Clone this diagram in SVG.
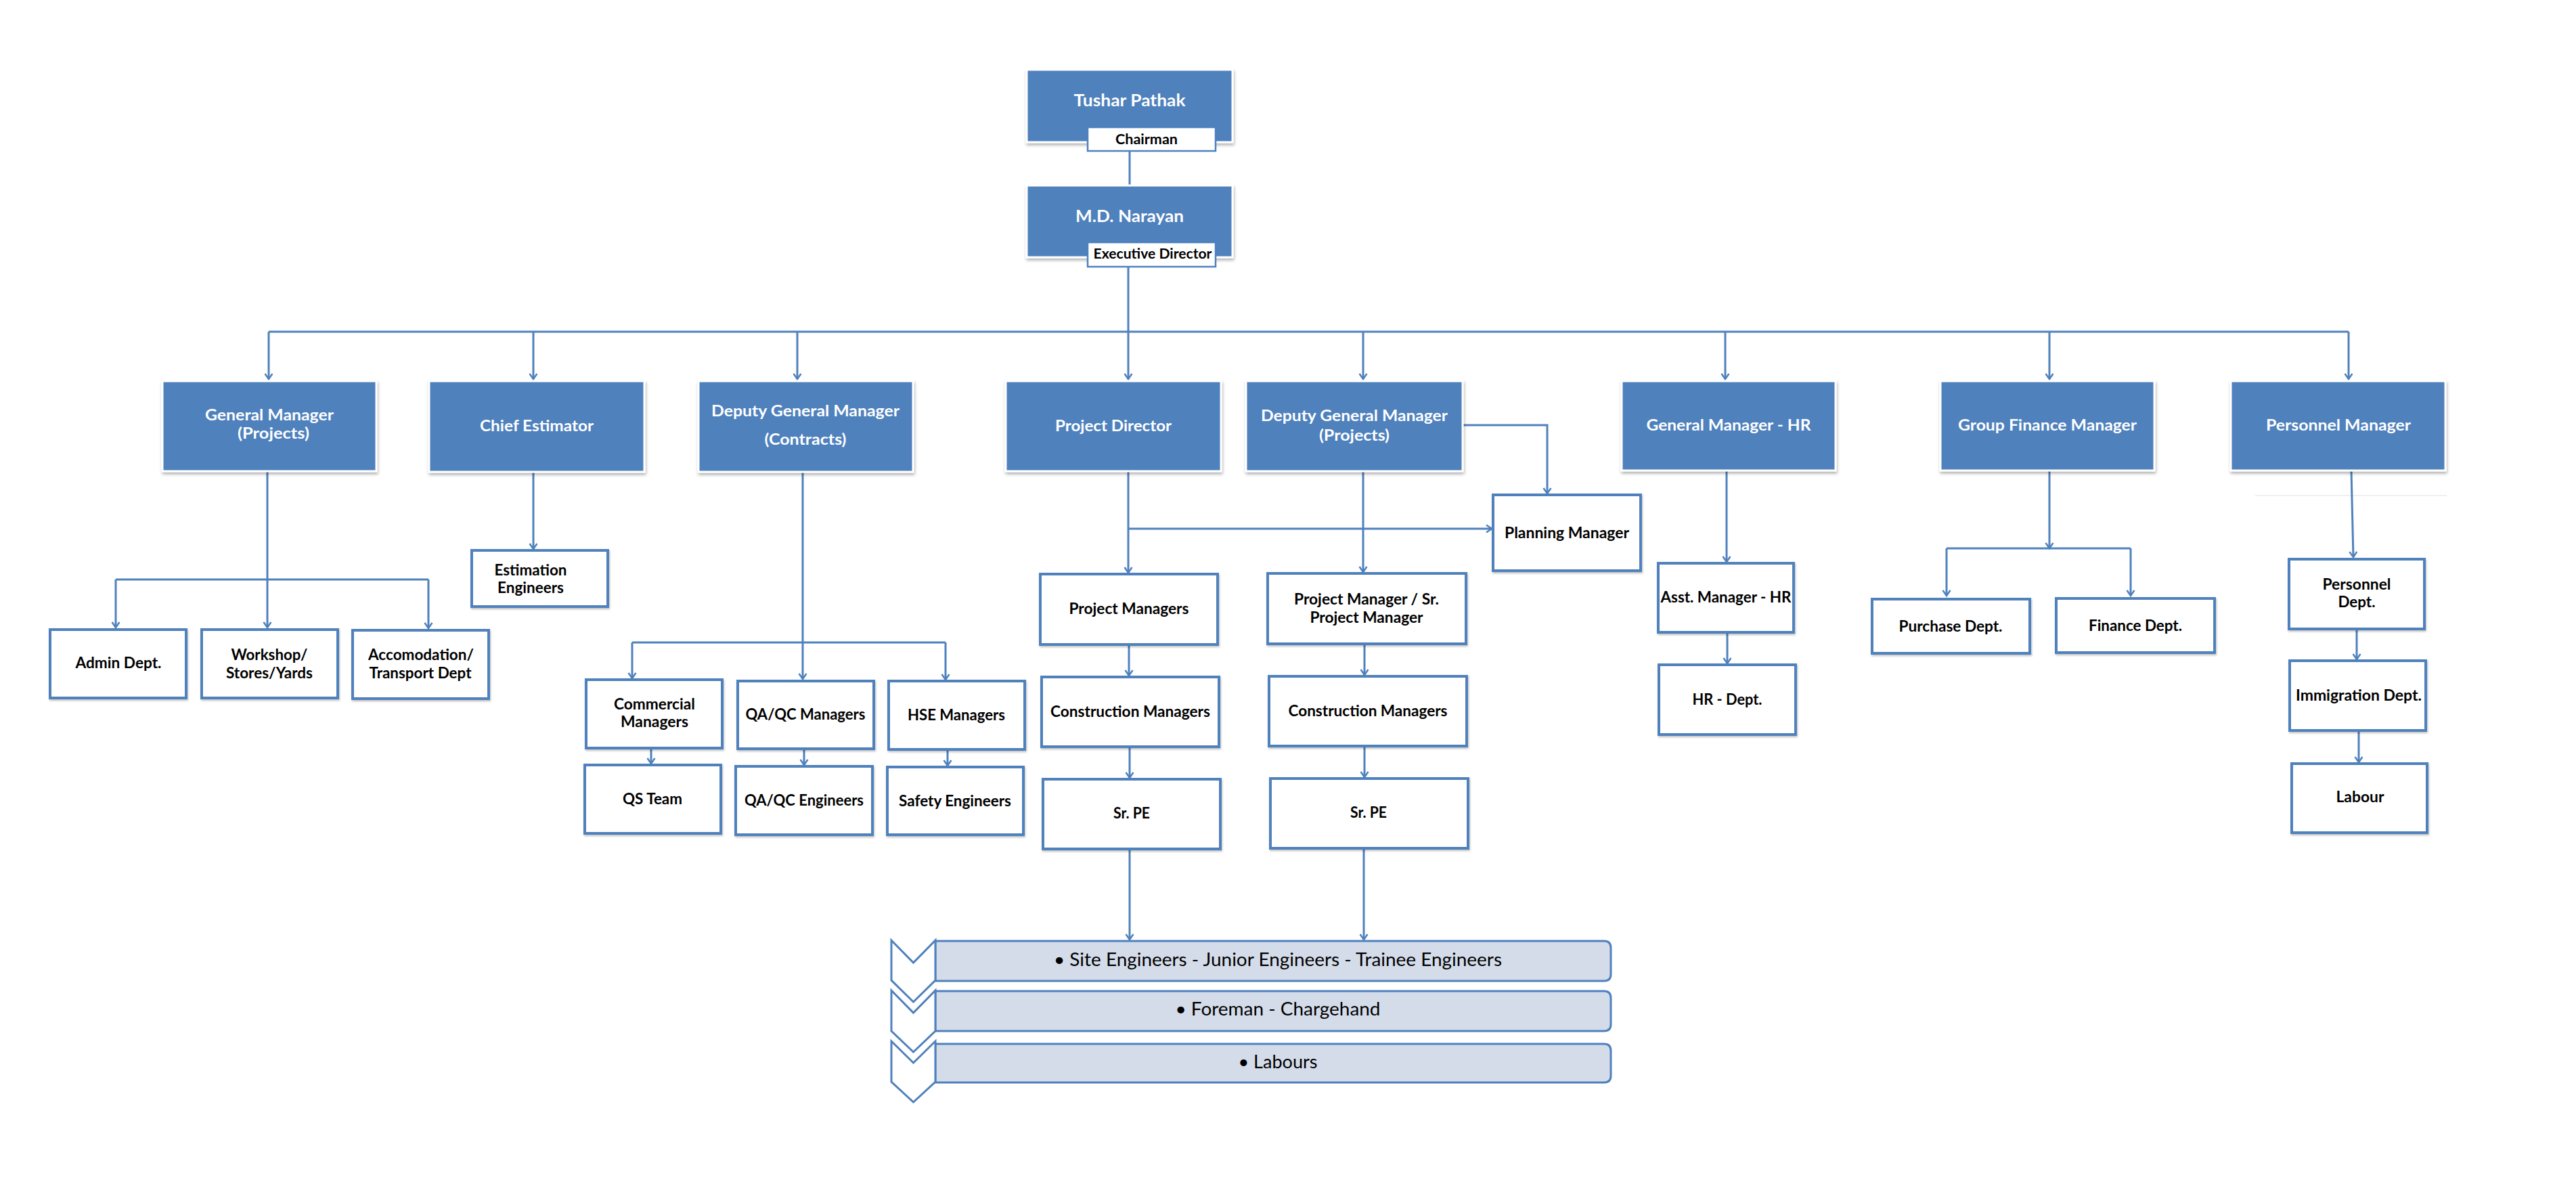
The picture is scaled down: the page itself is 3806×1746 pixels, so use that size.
<svg xmlns="http://www.w3.org/2000/svg" width="3806" height="1746" viewBox="0 0 3806 1746">
<defs>
<style>
.bb{fill:#4f81bd;stroke:#ffffff;stroke-width:3;filter:url(#sh)}
.wb{fill:#ffffff;stroke:#4f81bd;stroke-width:4;filter:url(#sh2)}
.lb{fill:#ffffff;stroke:#4f81bd;stroke-width:2.5}
.ln{fill:none;stroke:#4f81bd;stroke-width:3}
.la{fill:none;stroke:#4f81bd;stroke-width:3;marker-end:url(#arr)}
.bar{fill:#d4dcea;stroke:#4f81bd;stroke-width:3}
.chev{fill:#ffffff;stroke:#4f81bd;stroke-width:3;stroke-linejoin:miter}
text{font-family:Lato,"Liberation Sans","DejaVu Sans",sans-serif;text-anchor:middle}
.tw{fill:#ffffff;font-weight:bold;font-size:23px}
.tt{fill:#ffffff;font-weight:bold;font-size:25px}
.tb{fill:#000000;font-weight:bold;font-size:22px}
.tl{fill:#000000;font-weight:normal;font-size:26px}
</style>
<filter id="sh" x="-5%" y="-5%" width="112%" height="120%">
<feDropShadow dx="1" dy="3" stdDeviation="2" flood-color="#000000" flood-opacity="0.3"/>
</filter>
<filter id="sh2" x="-5%" y="-5%" width="112%" height="120%">
<feDropShadow dx="1" dy="2" stdDeviation="1.5" flood-color="#000000" flood-opacity="0.25"/>
</filter>
<marker id="arr" viewBox="-10 -7 12 14" refX="0" refY="0" markerWidth="12" markerHeight="14" markerUnits="userSpaceOnUse" orient="auto">
<path d="M-8,-5.5 L0,0 L-8,5.5" fill="none" stroke="#4f81bd" stroke-width="2.5"/>
</marker>
</defs>
<rect width="3806" height="1746" fill="#ffffff"/>

<g id="connectors">
<path class="ln" d="M1669,223 V274"/>
<path class="la" d="M1667,394 V560"/>
<path class="ln" d="M397,490 H3470"/>
<path class="la" d="M397,490 V560"/>
<path class="la" d="M788,490 V560"/>
<path class="la" d="M1178,490 V560"/>
<path class="la" d="M2014,490 V560"/>
<path class="la" d="M2549,490 V560"/>
<path class="la" d="M3028,490 V560"/>
<path class="la" d="M3470,490 V560"/>
<!-- GM projects -->
<path class="la" d="M395,696 V927"/>
<path class="ln" d="M171,856 H633"/>
<path class="la" d="M171,856 V927"/>
<path class="la" d="M633,856 V928"/>
<!-- Chief estimator -->
<path class="la" d="M788,697 V811"/>
<!-- DGM contracts -->
<path class="la" d="M1186,697 V1003"/>
<path class="ln" d="M934,949 H1397"/>
<path class="la" d="M934,949 V1002"/>
<path class="la" d="M1397,949 V1004"/>
<path class="la" d="M962,1105 V1128"/>
<path class="la" d="M1188,1106 V1130"/>
<path class="la" d="M1400,1107 V1131"/>
<!-- Project director -->
<path class="la" d="M1667,696 V846"/>
<path class="la" d="M1667,781 H2204"/>
<path class="la" d="M1668,952 V998"/>
<path class="la" d="M1669,1103 V1149"/>
<path class="la" d="M1669,1254 V1388"/>
<!-- DGM projects -->
<path class="la" d="M2161,628 H2286 V729"/>
<path class="la" d="M2014,696 V845"/>
<path class="la" d="M2016,951 V997"/>
<path class="la" d="M2016,1102 V1148"/>
<path class="la" d="M2015,1253 V1388"/>
<!-- GM HR -->
<path class="la" d="M2551,695 V830"/>
<path class="la" d="M2552,934 V980"/>
<!-- GFM -->
<path class="la" d="M3028,695 V810"/>
<path class="ln" d="M2876,810 H3148"/>
<path class="la" d="M2876,810 V880"/>
<path class="la" d="M3148,810 V880"/>
<!-- Personnel -->
<path class="ln" d="M3332,732 H3615" style="stroke:#f0f0f0;stroke-width:2"/>
<path class="la" d="M3474,695 L3477,823"/>
<path class="la" d="M3482,929 V974"/>
<path class="la" d="M3485,1079 V1126"/>
</g>

<g id="n-chairman">
<rect class="bb" x="1517" y="103" width="304" height="107"/>
<rect class="lb" x="1607" y="188" width="189" height="35"/>
<text class="tt" x="1669" y="157" textLength="165" lengthAdjust="spacingAndGlyphs">Tushar Pathak</text>
<text class="tb" x="1694" y="213" style="font-size:21px" textLength="92" lengthAdjust="spacingAndGlyphs">Chairman</text>
</g>
<g id="n-md">
<rect class="bb" x="1517" y="274" width="304" height="106"/>
<rect class="lb" x="1607" y="358" width="189" height="36"/>
<text class="tt" x="1669" y="328" textLength="160" lengthAdjust="spacingAndGlyphs">M.D. Narayan</text>
<text class="tb" x="1703" y="382" style="font-size:21px" textLength="175" lengthAdjust="spacingAndGlyphs">Executive Director</text>
</g>

<g id="n-gm-projects">
<rect class="bb" x="240" y="563" width="316" height="133"/>
<text class="tw" x="398" y="621" textLength="190" lengthAdjust="spacingAndGlyphs">General Manager</text>
<text class="tw" x="404" y="648" textLength="106" lengthAdjust="spacingAndGlyphs">(Projects)</text>
</g>
<g id="n-chief-estimator">
<rect class="bb" x="634" y="563" width="318" height="134"/>
<text class="tw" x="793" y="637" textLength="168" lengthAdjust="spacingAndGlyphs">Chief Estimator</text>
</g>
<g id="n-dgm-contracts">
<rect class="bb" x="1032" y="563" width="317" height="134"/>
<text class="tw" x="1190" y="615" textLength="278" lengthAdjust="spacingAndGlyphs">Deputy General Manager</text>
<text class="tw" x="1190" y="657" textLength="121" lengthAdjust="spacingAndGlyphs">(Contracts)</text>
</g>
<g id="n-project-director">
<rect class="bb" x="1486" y="563" width="318" height="133"/>
<text class="tw" x="1645" y="637" textLength="172" lengthAdjust="spacingAndGlyphs">Project Director</text>
</g>
<g id="n-dgm-projects">
<rect class="bb" x="1841" y="563" width="320" height="133"/>
<text class="tw" x="2001" y="622" textLength="276" lengthAdjust="spacingAndGlyphs">Deputy General Manager</text>
<text class="tw" x="2001" y="651" textLength="104" lengthAdjust="spacingAndGlyphs">(Projects)</text>
</g>
<g id="n-gm-hr">
<rect class="bb" x="2396" y="563" width="316" height="132"/>
<text class="tw" x="2554" y="636" textLength="243" lengthAdjust="spacingAndGlyphs">General Manager - HR</text>
</g>
<g id="n-gfm">
<rect class="bb" x="2867" y="563" width="316" height="132"/>
<text class="tw" x="3025" y="636" textLength="264" lengthAdjust="spacingAndGlyphs">Group Finance Manager</text>
</g>
<g id="n-personnel-manager">
<rect class="bb" x="3296" y="563" width="317" height="132"/>
<text class="tw" x="3455" y="636" textLength="214" lengthAdjust="spacingAndGlyphs">Personnel Manager</text>
</g>

<g id="n-admin">
<rect class="wb" x="74" y="930" width="201" height="101"/>
<text class="tb" x="175" y="987" textLength="127" lengthAdjust="spacingAndGlyphs">Admin Dept.</text>
</g>
<g id="n-workshop">
<rect class="wb" x="298" y="930" width="201" height="101"/>
<text class="tb" x="398" y="975" textLength="113" lengthAdjust="spacingAndGlyphs">Workshop/</text>
<text class="tb" x="398" y="1002" textLength="128" lengthAdjust="spacingAndGlyphs">Stores/Yards</text>
</g>
<g id="n-accomodation">
<rect class="wb" x="521" y="931" width="201" height="101"/>
<text class="tb" x="622" y="975" textLength="156" lengthAdjust="spacingAndGlyphs">Accomodation/</text>
<text class="tb" x="621" y="1002" textLength="151" lengthAdjust="spacingAndGlyphs">Transport Dept</text>
</g>
<g id="n-estimation">
<rect class="wb" x="697" y="813" width="201" height="83"/>
<text class="tb" x="784" y="850" textLength="107" lengthAdjust="spacingAndGlyphs">Estimation</text>
<text class="tb" x="784" y="876" textLength="98" lengthAdjust="spacingAndGlyphs">Engineers</text>
</g>

<g id="n-commercial">
<rect class="wb" x="866" y="1004" width="201" height="101"/>
<text class="tb" x="967" y="1048" textLength="120" lengthAdjust="spacingAndGlyphs">Commercial</text>
<text class="tb" x="967" y="1074" textLength="100" lengthAdjust="spacingAndGlyphs">Managers</text>
</g>
<g id="n-qaqc-managers">
<rect class="wb" x="1090" y="1006" width="201" height="100"/>
<text class="tb" x="1190" y="1063" textLength="177" lengthAdjust="spacingAndGlyphs">QA/QC Managers</text>
</g>
<g id="n-hse">
<rect class="wb" x="1313" y="1006" width="201" height="101"/>
<text class="tb" x="1413" y="1064" textLength="144" lengthAdjust="spacingAndGlyphs">HSE Managers</text>
</g>
<g id="n-qs">
<rect class="wb" x="864" y="1130" width="201" height="101"/>
<text class="tb" x="964" y="1188" textLength="88" lengthAdjust="spacingAndGlyphs">QS Team</text>
</g>
<g id="n-qaqc-engineers">
<rect class="wb" x="1087" y="1132" width="202" height="101"/>
<text class="tb" x="1188" y="1190" textLength="176" lengthAdjust="spacingAndGlyphs">QA/QC Engineers</text>
</g>
<g id="n-safety">
<rect class="wb" x="1311" y="1133" width="201" height="100"/>
<text class="tb" x="1411" y="1191" textLength="166" lengthAdjust="spacingAndGlyphs">Safety Engineers</text>
</g>

<g id="n-planning">
<rect class="wb" x="2206" y="731" width="218" height="112"/>
<text class="tb" x="2315" y="795" textLength="184" lengthAdjust="spacingAndGlyphs">Planning Manager</text>
</g>
<g id="n-project-managers">
<rect class="wb" x="1537" y="848" width="262" height="104"/>
<text class="tb" x="1668" y="907" textLength="177" lengthAdjust="spacingAndGlyphs">Project Managers</text>
</g>
<g id="n-construction-1">
<rect class="wb" x="1539" y="1000" width="262" height="103"/>
<text class="tb" x="1670" y="1059" textLength="236" lengthAdjust="spacingAndGlyphs">Construction Managers</text>
</g>
<g id="n-srpe-1">
<rect class="wb" x="1541" y="1151" width="262" height="103"/>
<text class="tb" x="1672" y="1209" textLength="54" lengthAdjust="spacingAndGlyphs">Sr. PE</text>
</g>
<g id="n-pm-srpm">
<rect class="wb" x="1873" y="847" width="293" height="104"/>
<text class="tb" x="2019" y="893" textLength="214" lengthAdjust="spacingAndGlyphs">Project Manager / Sr.</text>
<text class="tb" x="2019" y="920" textLength="167" lengthAdjust="spacingAndGlyphs">Project Manager</text>
</g>
<g id="n-construction-2">
<rect class="wb" x="1875" y="999" width="292" height="103"/>
<text class="tb" x="2021" y="1058" textLength="235" lengthAdjust="spacingAndGlyphs">Construction Managers</text>
</g>
<g id="n-srpe-2">
<rect class="wb" x="1877" y="1150" width="292" height="103"/>
<text class="tb" x="2022" y="1208" textLength="54" lengthAdjust="spacingAndGlyphs">Sr. PE</text>
</g>

<g id="n-asst-hr">
<rect class="wb" x="2450" y="832" width="200" height="102"/>
<text class="tb" x="2550" y="890" textLength="193" lengthAdjust="spacingAndGlyphs">Asst. Manager - HR</text>
</g>
<g id="n-hr-dept">
<rect class="wb" x="2451" y="982" width="202" height="103"/>
<text class="tb" x="2552" y="1041" textLength="103" lengthAdjust="spacingAndGlyphs">HR - Dept.</text>
</g>
<g id="n-purchase">
<rect class="wb" x="2766" y="885" width="233" height="80"/>
<text class="tb" x="2882" y="933" textLength="153" lengthAdjust="spacingAndGlyphs">Purchase Dept.</text>
</g>
<g id="n-finance">
<rect class="wb" x="3038" y="884" width="234" height="80"/>
<text class="tb" x="3155" y="932" textLength="138" lengthAdjust="spacingAndGlyphs">Finance Dept.</text>
</g>
<g id="n-personnel-dept">
<rect class="wb" x="3382" y="826" width="200" height="103"/>
<text class="tb" x="3482" y="871" textLength="101" lengthAdjust="spacingAndGlyphs">Personnel</text>
<text class="tb" x="3482" y="897" textLength="55" lengthAdjust="spacingAndGlyphs">Dept.</text>
</g>
<g id="n-immigration">
<rect class="wb" x="3383" y="976" width="201" height="103"/>
<text class="tb" x="3485" y="1035" textLength="186" lengthAdjust="spacingAndGlyphs">Immigration Dept.</text>
</g>
<g id="n-labour">
<rect class="wb" x="3386" y="1128" width="200" height="102"/>
<text class="tb" x="3487" y="1185" textLength="71" lengthAdjust="spacingAndGlyphs">Labour</text>
</g>

<g id="n-site-levels">
<path class="bar" d="M1382,1390 H2370 Q2380,1390 2380,1400 V1439 Q2380,1449 2370,1449 H1382 Z"/>
<path class="bar" d="M1382,1464 H2370 Q2380,1464 2380,1474 V1513 Q2380,1523 2370,1523 H1382 Z"/>
<path class="bar" d="M1382,1542 H2370 Q2380,1542 2380,1552 V1589 Q2380,1599 2370,1599 H1382 Z"/>
<path class="chev" d="M1317,1389 L1349.5,1422 L1382,1389 V1448 L1349.5,1480 L1317,1448 Z"/>
<path class="chev" d="M1317,1463 L1349.5,1496 L1382,1463 V1523 L1349.5,1554 L1317,1523 Z"/>
<path class="chev" d="M1317,1538 L1349.5,1570 L1382,1538 V1598 L1349.5,1628 L1317,1598 Z"/>
<text class="tl" x="1888" y="1427" textLength="662" lengthAdjust="spacingAndGlyphs">• Site Engineers - Junior Engineers - Trainee Engineers</text>
<text class="tl" x="1888" y="1500" textLength="303" lengthAdjust="spacingAndGlyphs">• Foreman - Chargehand</text>
<text class="tl" x="1888" y="1578" textLength="117" lengthAdjust="spacingAndGlyphs">• Labours</text>
</g>
</svg>
